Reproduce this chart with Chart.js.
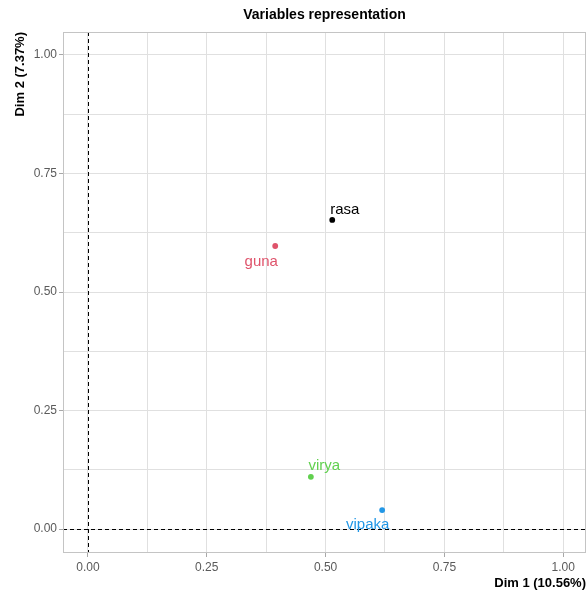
<!DOCTYPE html>
<html>
<head>
<meta charset="utf-8">
<script src="https://cdn.jsdelivr.net/npm/chart.js@4"></script>
<style>
html,body{margin:0;padding:0;background:#fff;}
#wrap{width:587px;height:598px;position:relative;}
</style>
</head>
<body>
<div id="wrap"><canvas id="c" width="587" height="598"></canvas></div>
<script>
// ---- data ----
const variables = ['rasa', 'guna', 'virya', 'vipaka'];
const dim1 = [0.514, 0.394, 0.469, 0.619];
const dim2 = [0.652, 0.597, 0.110, 0.040];
const xTicks = [0, 0.25, 0.5, 0.75, 1.0];
const yTicks = [0, 0.25, 0.5, 0.75, 1.0];
const chartTitle = 'Variables representation';
const xTitle = 'Dim 1 (10.56%)';
const yTitle = 'Dim 2 (7.37%)';

// ---- style ----
const pointColors = ['#000000', '#DF536B', '#61D04F', '#2297E6'];
const labelOffsets = [[12.5, -10], [-14, 16], [13.5, -11], [-14.5, 15]];
const FONT = '"Liberation Sans", Arial, sans-serif';
const GRID = '#e0e0e0';

const isMajor = v => xTicks.some(t => Math.abs(t - v) < 1e-6);

const overlay = {
  id: 'overlay',
  beforeDatasetsDraw(chart) {
    const {ctx, chartArea: a, scales: {x, y}} = chart;
    ctx.save();
    ctx.strokeStyle = '#000';
    ctx.lineWidth = 1;
    ctx.setLineDash([4, 3]);
    const x0 = Math.round(x.getPixelForValue(0)) + 0.5;
    const y0 = Math.round(y.getPixelForValue(0)) + 0.5;
    ctx.beginPath();
    ctx.moveTo(x0, a.top); ctx.lineTo(x0, a.bottom);
    ctx.moveTo(a.left, y0); ctx.lineTo(a.right, y0);
    ctx.stroke();
    ctx.setLineDash([]);
    ctx.strokeStyle = '#c4c4c4';
    ctx.strokeRect(a.left + 0.5, a.top + 0.5, a.right - a.left - 1, a.bottom - a.top - 1);
    ctx.restore();
  },
  afterDatasetsDraw(chart) {
    const {ctx, chartArea: a, scales: {x, y}} = chart;
    ctx.save();
    ctx.font = '15px ' + FONT;
    ctx.textAlign = 'center';
    ctx.textBaseline = 'middle';
    variables.forEach((n, i) => {
      ctx.fillStyle = pointColors[i];
      ctx.fillText(n, x.getPixelForValue(dim1[i]) + labelOffsets[i][0], y.getPixelForValue(dim2[i]) + labelOffsets[i][1]);
    });
    ctx.font = 'bold 14px ' + FONT;
    ctx.fillStyle = '#000';
    ctx.fillText(chartTitle, (a.left + a.right) / 2, 15);
    ctx.restore();
  }
};

new Chart(document.getElementById('c'), {
  type: 'scatter',
  data: {
    datasets: [{
      data: variables.map((n, i) => ({x: dim1[i], y: dim2[i]})),
      pointBackgroundColor: pointColors,
      pointBorderColor: pointColors,
      pointRadius: 2.9,
      pointBorderWidth: 0
    }]
  },
  options: {
    responsive: false,
    animation: false,
    events: [],
    layout: {autoPadding: false, padding: {top: 32, right: 1, left: 0, bottom: 0}},
    plugins: {legend: {display: false}, tooltip: {enabled: false}, title: {display: false}},
    scales: {
      x: {
        type: 'linear', min: -0.0526, max: 1.048,
        afterBuildTicks(s) { s.ticks = [0,0.125,0.25,0.375,0.5,0.625,0.75,0.875,1.0].map(v => ({value: v})); },
        afterFit(s) { s.height = 45; s.paddingRight = 0; s.paddingLeft = 0; },
        ticks: {
          autoSkip: false, maxRotation: 0, padding: 3,
          color: '#5a5a5a', font: {family: FONT, size: 12},
          callback: v => isMajor(v) ? v.toFixed(2) : ''
        },
        grid: {color: GRID, lineWidth: 1, tickLength: 4,
          tickColor: c => (c.tick && isMajor(c.tick.value)) ? '#a8a8a8' : 'rgba(0,0,0,0)'},
        border: {display: false},
        title: {display: true, text: xTitle, align: 'end', color: '#000',
          font: {family: FONT, size: 13, weight: 'bold'}, padding: {top: 0, bottom: 7}}
      },
      y: {
        type: 'linear', min: -0.0506, max: 1.0485,
        afterBuildTicks(s) { s.ticks = [0,0.125,0.25,0.375,0.5,0.625,0.75,0.875,1.0].map(v => ({value: v})); },
        afterFit(s) { s.width = 63; s.paddingTop = 0; s.paddingBottom = 0; },
        ticks: {
          autoSkip: false, padding: 2,
          color: '#5a5a5a', font: {family: FONT, size: 12},
          callback: v => yTicks.some(t => Math.abs(t - v) < 1e-6) ? v.toFixed(2) : ''
        },
        grid: {color: GRID, lineWidth: 1, tickLength: 4,
          tickColor: c => (c.tick && isMajor(c.tick.value)) ? '#a8a8a8' : 'rgba(0,0,0,0)'},
        border: {display: false},
        title: {display: true, text: yTitle, align: 'end', color: '#000',
          font: {family: FONT, size: 13, weight: 'bold'}, padding: {top: 13, bottom: 0}}
      }
    }
  },
  plugins: [overlay]
});
</script>
</body>
</html>
